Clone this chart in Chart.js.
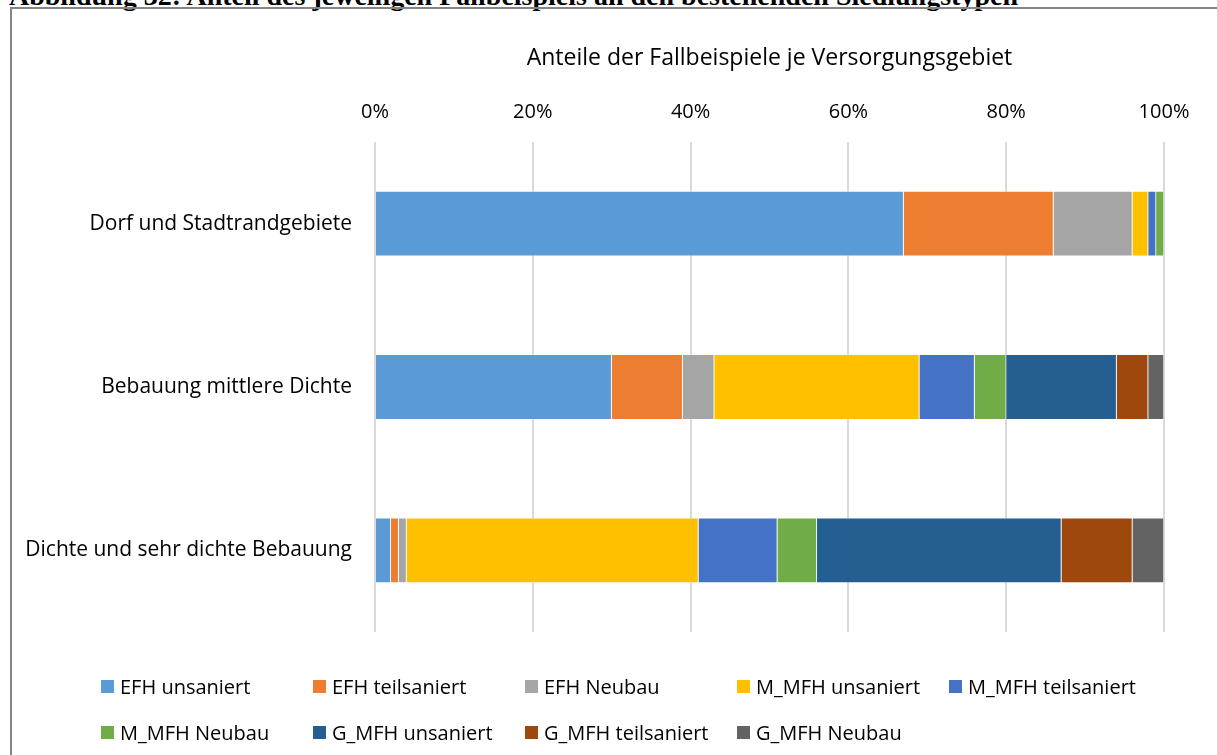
<!DOCTYPE html>
<html>
<head>
<meta charset="utf-8">
<script src="https://cdn.jsdelivr.net/npm/chart.js@4"></script>
<style>
  html, body { margin: 0; padding: 0; background: #fff; overflow: hidden; }
  body { width: 1217px; height: 755px; position: relative; }
  #caption {
    position: absolute; left: 9px; top: -20px; line-height: 28px;
    font: bold 28px "Liberation Serif", serif; color: #000; white-space: nowrap;
  }
  #frame {
    position: absolute; left: 10px; top: 7px; width: 1240px; height: 780px;
    border: 2px solid #858585; box-sizing: border-box;
  }
  #wrap { position: absolute; left: 0; top: 0; width: 1217px; height: 755px; }
  #legend {
    position: absolute; left: 101px; top: 673px; width: 1100px;
    display: grid; grid-template-columns: repeat(5, 212px); row-gap: 20px;
    font: 20px "Open Sans", sans-serif; color: #000;
  }
  .item { display: flex; align-items: center; height: 26px; white-space: nowrap; }
  .box { width: 13px; height: 13px; margin-right: 6px; flex: none; }
</style>
</head>
<body>
<div id="caption">Abbildung 32: Anteil des jeweiligen Fallbeispiels an den bestehenden Siedlungstypen</div>
<div id="frame"></div>
<div id="wrap"><canvas id="chart"></canvas></div>
<div id="legend"></div>
<script>
/* ---- data ---- */
const categories = ['Dorf und Stadtrandgebiete', 'Bebauung mittlere Dichte', 'Dichte und sehr dichte Bebauung'];
const seriesNames = ['EFH unsaniert', 'EFH teilsaniert', 'EFH Neubau', 'M_MFH unsaniert', 'M_MFH teilsaniert',
                     'M_MFH Neubau', 'G_MFH unsaniert', 'G_MFH teilsaniert', 'G_MFH Neubau'];
const efhUnsaniert     = [67, 30, 2];
const efhTeilsaniert   = [19, 9, 1];
const efhNeubau        = [10, 4, 1];
const mMfhUnsaniert    = [2, 26, 37];
const mMfhTeilsaniert  = [1, 7, 10];
const mMfhNeubau       = [1, 4, 5];
const gMfhUnsaniert    = [0, 14, 31];
const gMfhTeilsaniert  = [0, 4, 9];
const gMfhNeubau       = [0, 2, 4];
const xTicks = [0, 20, 40, 60, 80, 100];
const axisTitle = 'Anteile der Fallbeispiele je Versorgungsgebiet';

const seriesValues = [efhUnsaniert, efhTeilsaniert, efhNeubau, mMfhUnsaniert, mMfhTeilsaniert,
                      mMfhNeubau, gMfhUnsaniert, gMfhTeilsaniert, gMfhNeubau];
const colors = ['#5B9BD5', '#ED7D31', '#A5A5A5', '#FFC000', '#4472C4',
                '#70AD47', '#255E91', '#9E480E', '#636363'];

const FONT = '"Open Sans", sans-serif';

/* ---- legend (html) ---- */
const legend = document.getElementById('legend');
seriesNames.forEach((name, i) => {
  const item = document.createElement('div');
  item.className = 'item';
  item.innerHTML = `<span class="box" style="background:${colors[i]}"></span><span>${name}</span>`;
  legend.appendChild(item);
});

/* ---- chart ---- */
new Chart(document.getElementById('chart'), {
  type: 'bar',
  data: {
    labels: categories,
    datasets: seriesNames.map((name, i) => ({
      label: name,
      data: seriesValues[i],
      backgroundColor: colors[i],
      borderColor: 'rgba(255,255,255,0.45)',
      borderWidth: 0.75,
      categoryPercentage: 1,
      barPercentage: 0.4,
    }))
  },
  options: {
    indexAxis: 'y',
    responsive: true,
    maintainAspectRatio: false,
    animation: false,
    layout: { padding: { left: 0, right: 53, top: 0, bottom: 123 } },
    plugins: { legend: { display: false }, tooltip: { enabled: false } },
    scales: {
      x: {
        position: 'top',
        stacked: true,
        min: 0, max: 100,
        afterBuildTicks: s => { s.ticks = xTicks.map(v => ({ value: v })); },
        afterFit: s => { s.height = 142; },
        border: { display: false },
        grid: { color: '#d9d9d9', lineWidth: 2, drawTicks: false },
        ticks: { color: '#000', padding: 18, font: { family: FONT, size: 20 }, callback: v => v + '%' },
        title: { display: true, text: axisTitle, color: '#000', padding: { top: 45, bottom: 0 },
                 font: { family: FONT, size: 23 } }
      },
      y: {
        stacked: true,
        afterFit: s => { s.width = 375; },
        border: { display: false },
        grid: { display: false, drawTicks: false },
        ticks: { color: '#000', padding: 23, font: { family: FONT, size: 21 } }
      }
    }
  }
});
</script>
</body>
</html>
